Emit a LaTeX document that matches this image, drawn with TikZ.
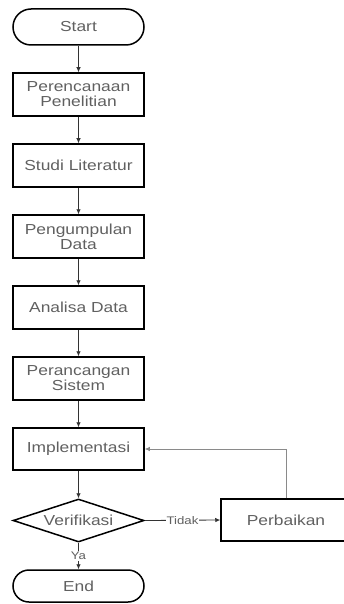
\documentclass[tikz,border=0pt]{standalone}
\usepackage{fontspec}
\setmainfont[FakeStretch=1.2]{Liberation Sans}
\usetikzlibrary{shapes.geometric,arrows.meta}
\definecolor{txt}{HTML}{606060}
\definecolor{wire}{HTML}{333333}
\definecolor{loopwire}{HTML}{8A8A8A}
\begin{document}
\begin{tikzpicture}[x=1pt,y=-1pt,
  base/.style={draw=black,line width=1.5pt,text=txt,inner sep=0pt,
    font=\fontsize{14.5}{15}\selectfont,align=center},
  procbox/.style={base,rectangle,minimum width=131pt,minimum height=43pt},
  terminal/.style={base,rectangle,rounded corners=16pt,minimum width=131pt},
  decision/.style={base,diamond,aspect=3.1,minimum width=131pt,minimum height=43pt},
  flow/.style={draw=wire,line width=0.8pt,-{Latex[length=5pt,width=4.5pt]}},
  backflow/.style={draw=loopwire,line width=0.8pt,-{Latex[length=5pt,width=4.5pt]}},
  tag/.style={fill=white,text=txt,inner sep=1pt,font=\fontsize{11}{12}\selectfont}]
  \useasboundingbox (0,0) rectangle (343,604);

  \node[terminal,minimum height=36pt,rounded corners=18pt] (start) at (78.5,27) {Start};
  \node[procbox] (plan)   at (78.5,94.5)  {Perencanaan\\Penelitian};
  \node[procbox] (lit)    at (78.5,165.5) {Studi Literatur};
  \node[procbox] (collect) at (78.5,236.5) {Pengumpulan\\Data};
  \node[procbox] (analyse) at (78.5,307.5) {Analisa Data};
  \node[procbox] (design) at (78.5,378.5) {Perancangan\\Sistem};
  \node[procbox,minimum height=42pt] (impl) at (78.5,449) {Implementasi};
  \node[decision] (verify) at (78.5,520.5) {Verifikasi};
  \node[procbox,minimum width=130pt,minimum height=42pt] (fix) at (286,520) {Perbaikan};
  \node[terminal,minimum height=32pt] (end) at (78.5,586) {End};

  \draw[flow] (start) -- (plan);
  \draw[flow] (plan) -- (lit);
  \draw[flow] (lit) -- (collect);
  \draw[flow] (collect) -- (analyse);
  \draw[flow] (analyse) -- (design);
  \draw[flow] (design) -- (impl);
  \draw[flow] (impl) -- (verify);
  \draw[flow] (verify.east) -- node[tag] {Tidak} (fix.west);
  \draw[flow] (verify.south) -- node[tag] {Ya} (end.north);
  \draw[backflow] (fix.north) |- (impl.east);
\end{tikzpicture}
\end{document}
